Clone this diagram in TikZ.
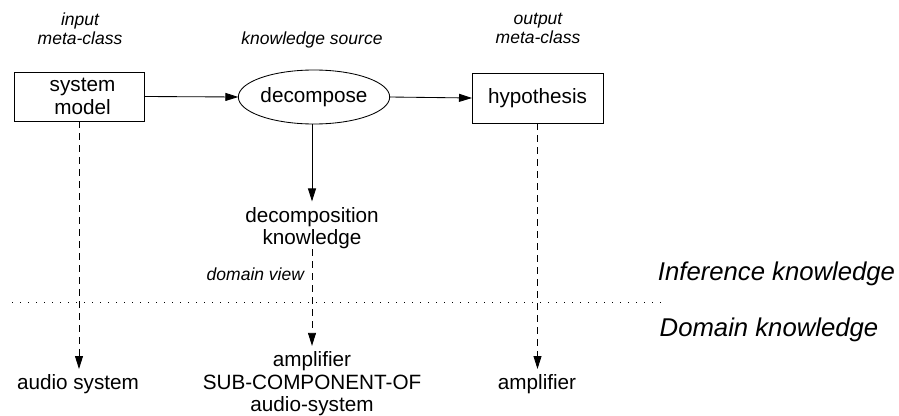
\documentclass[tikz,border=0pt]{standalone}
\usepackage{fontspec}
\setmainfont{Liberation Sans}
\usetikzlibrary{arrows.meta,shapes.geometric}
\begin{document}
\begin{tikzpicture}[x=1pt,y=-1pt,
  every node/.style={inner sep=0pt, outer sep=0pt},
  mainfont/.style={font=\fontsize{20.7}{22.5}\selectfont},
  tagfont/.style={font=\fontsize{17.5}{19}\selectfont\itshape},
  layerfont/.style={font=\fontsize{25.7}{30}\selectfont\itshape},
  box/.style={draw, line width=0.85pt, minimum width=130pt, minimum height=49pt, mainfont, align=center},
  ksource/.style={draw, ellipse, line width=0.85pt, minimum width=139pt, minimum height=54pt, mainfont},
  txt/.style={mainfont, align=center},
  link/.style={line width=0.85pt, -{Triangle[length=13pt,width=8pt]}},
  view/.style={link, dash pattern=on 7pt off 5pt},
  boundary/.style={line width=0.8pt, dash pattern=on 1pt off 7pt}
]
\useasboundingbox (0,0) rectangle (899,415);

% inference structure
\node[box] (sm) at (79,96.5) {\hspace*{7pt}system\\\hspace*{7pt}model};
\node[ksource] (dec) at (314,97) {decompose};
\node[box, minimum width=131pt, minimum height=50pt] (hyp) at (537.5,98) {hypothesis};
\node[txt] (dk) at (312,228.3) {decomposition\\knowledge};

% domain-level instances
\node[txt, anchor=base] (as) at (78,389) {audio system};
\node[txt] (amp) at (312,384) {amplifier\\SUB-COMPONENT-OF\\audio-system};
\node[txt, anchor=base] (hamp) at (537,389) {amplifier};

% role annotations
\node[tagfont, align=center] (tin) at (80,29) {input\\meta-class};
\node[tagfont, anchor=base] (tks) at (312,44) {knowledge source};
\node[tagfont, align=center] (tout) at (538,28.5) {output\\meta-class};
\node[tagfont, anchor=base east] (tdv) at (304,280) {domain view};

% layer titles
\node[layerfont, anchor=base] (linf) at (776.5,280) {Inference knowledge};
\node[layerfont, anchor=base] (ldom) at (769,336) {Domain knowledge};

% layer boundary
\coordinate (bl) at (12,302);
\coordinate (br) at (668,302);
\draw[boundary] (bl) -- (br);

% connectors
\draw[link] (sm.east) -- (dec.west);
\draw[link] (dec.east) -- (hyp.west);
\draw[link, shorten >=6pt] (dk.north |- dec.south) -- (dk.north);
\draw[view, shorten >=6pt] (dk.south) -- (amp.north);
\draw[view, shorten >=5pt] (sm.south) -- (sm.south |- as.north);
\draw[view, shorten >=5pt] (hyp.south) -- (hyp.south |- hamp.north);
\end{tikzpicture}
\end{document}
